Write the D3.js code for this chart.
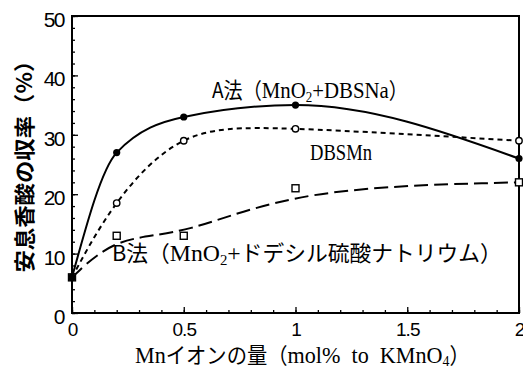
<!DOCTYPE html>
<html>
<head>
<meta charset="utf-8">
<script src="https://cdn.jsdelivr.net/npm/d3@7"></script>
<style>
  html, body { margin: 0; padding: 0; background: #fff; }
  svg { display: block; }
  text { white-space: pre; }
</style>
</head>
<body>
<svg id="chart" width="523" height="370"></svg>
<script>
// Mn ion amount (mol% to KMnO4)
const mnAmount = [0, 0.2, 0.5, 1, 2];
// Benzoic acid yield (%) for each method
const yieldA = [6, 27, 33, 35, 26];        // A法 (MnO2 + DBSNa)
const yieldDBSMn = [6, 18.5, 29, 31, 29];  // DBSMn
const yieldB = [6, 13, 13, 21, 22];        // B法 (MnO2 + ドデシル硫酸ナトリウム)

const xTicks = [0, 0.5, 1, 1.5, 2];
const xTickLabels = ["0", "0.5", "1", "1.5", "2"];
const yTicks = [0, 10, 20, 30, 40, 50];
const yTickLabels = ["0", "10", "20", "30", "40", "50"];

const svg = d3.select("#chart");
const plotLeft = 72, plotRight = 519, plotTop = 16, plotBottom = 313;

const x = d3.scaleLinear().domain([0, 2]).range([plotLeft, plotRight]);
const y = d3.scaleLinear().domain([0, 50]).range([plotBottom, plotTop]);

const CJK = "'Noto Sans CJK JP', sans-serif";
const SERIF = "'Liberation Serif', 'DejaVu Serif', serif";
const SANS = "'Liberation Sans', Arial, sans-serif";

// Frame
svg.append("rect")
  .attr("x", plotLeft).attr("y", plotTop)
  .attr("width", plotRight - plotLeft).attr("height", plotBottom - plotTop)
  .attr("fill", "none").attr("stroke", "#000").attr("stroke-width", 2);

// Minor ticks
const xMinor = svg.append("g").attr("transform", `translate(0,${plotBottom})`)
  .call(d3.axisBottom(x).tickValues(d3.range(0, 2.001, 0.1)).tickSize(-3).tickFormat(""));
const yMinor = svg.append("g").attr("transform", `translate(${plotLeft},0)`)
  .call(d3.axisLeft(y).tickValues(d3.range(0, 50.1, 2)).tickSize(-3).tickFormat(""));

// Major ticks with labels
const xAxis = svg.append("g").attr("transform", `translate(0,${plotBottom})`)
  .call(d3.axisBottom(x).tickValues(xTicks).tickSize(-6).tickPadding(13)
    .tickFormat((d, i) => xTickLabels[i]));
const yAxis = svg.append("g").attr("transform", `translate(${plotLeft},0)`)
  .call(d3.axisLeft(y).tickValues(yTicks).tickSize(-6).tickPadding(8)
    .tickFormat((d, i) => yTickLabels[i]));

[xMinor, yMinor, xAxis, yAxis].forEach(g => {
  g.select(".domain").remove();
  g.selectAll(".tick line").attr("stroke", "#000").attr("stroke-width", 1.3);
});
xAxis.selectAll(".tick text")
  .attr("font-family", SANS).attr("font-size", 19).attr("fill", "#000")
  .attr("letter-spacing", -1).attr("dy", "0.5em");
yAxis.selectAll(".tick text")
  .attr("font-family", SANS).attr("font-size", 21).attr("fill", "#000")
  .attr("letter-spacing", -1.5).attr("dy", "0.5em");

// Curves
const series = [
  { values: yieldDBSMn, curve: d3.curveNatural, dash: "5,4", width: 2 },
  { values: yieldB, curve: d3.curveBasis, dash: "14,6", width: 2 },
  { values: yieldA, curve: d3.curveMonotoneX, dash: null, width: 2 }
];
series.forEach(s => {
  const line = d3.line().x((d, i) => x(mnAmount[i])).y(d => y(d)).curve(s.curve);
  svg.append("path")
    .attr("d", line(s.values))
    .attr("fill", "none").attr("stroke", "#000")
    .attr("stroke-width", s.width)
    .attr("stroke-dasharray", s.dash);
});

// Markers
svg.append("g").selectAll("rect").data(yieldB).join("rect")
  .attr("x", (d, i) => x(mnAmount[i]) - 3.5).attr("y", d => y(d) - 3.5)
  .attr("width", 7).attr("height", 7)
  .attr("fill", "#fff").attr("stroke", "#000").attr("stroke-width", 1.4);
svg.append("g").selectAll("circle").data(yieldDBSMn).join("circle")
  .attr("cx", (d, i) => x(mnAmount[i])).attr("cy", d => y(d)).attr("r", 3.2)
  .attr("fill", "#fff").attr("stroke", "#000").attr("stroke-width", 1.4);
svg.append("g").selectAll("circle").data(yieldA).join("circle")
  .attr("cx", (d, i) => x(mnAmount[i])).attr("cy", d => y(d)).attr("r", 3.6)
  .attr("fill", "#000");

// Labels built from runs of Japanese and Latin text, squeezed horizontally to a set width
function label(parts, xPos, yPos, width, opts = {}) {
  const g = svg.append("g");
  const t = g.append("text").attr("x", 0).attr("y", 0).attr("fill", "#000");
  parts.forEach(p => {
    const ts = t.append("tspan")
      .attr("font-family", p.f)
      .attr("font-size", p.s);
    if (p.sub) ts.attr("baseline-shift", "-25%");
    if (p.w) ts.attr("font-weight", p.w);
    ts.text(p.t);
  });
  const bb = t.node().getBBox();
  const k = width / bb.width;
  t.attr("x", -bb.x);
  if (opts.rotate) {
    t.attr("x", -bb.x - bb.width / 2);
    g.attr("transform", `translate(${xPos},${yPos}) rotate(-90) scale(${k},1)`);
  } else {
    g.attr("transform", `translate(${xPos},${yPos}) scale(${k},1)`);
  }
  return g;
}

label([
  { t: "A法（", f: CJK, s: 22 },
  { t: "MnO", f: SERIF, s: 24 },
  { t: "2", f: SERIF, s: 15, sub: true },
  { t: "+DBSNa", f: SERIF, s: 24 },
  { t: "）", f: CJK, s: 22 }
], 212, 98, 196);

label([{ t: "DBSMn", f: SERIF, s: 24 }], 310, 160, 62);

label([
  { t: "B法（", f: CJK, s: 22 },
  { t: "MnO", f: SERIF, s: 24 },
  { t: "2", f: SERIF, s: 15, sub: true },
  { t: "+", f: SERIF, s: 24 },
  { t: "ドデシル硫酸ナトリウム）", f: CJK, s: 22 }
], 112, 261, 390);

label([
  { t: "Mn", f: SERIF, s: 24 },
  { t: "イオンの量（", f: CJK, s: 22 },
  { t: "mol%  to  KMnO", f: SERIF, s: 24 },
  { t: "4", f: SERIF, s: 15, sub: true },
  { t: "）", f: CJK, s: 22 }
], 135, 363, 335);

label([
  { t: "安息香酸の収率（%）", f: CJK, s: 21, w: 600 }
], 32, 161, 223, { rotate: true });
</script>
</body>
</html>
